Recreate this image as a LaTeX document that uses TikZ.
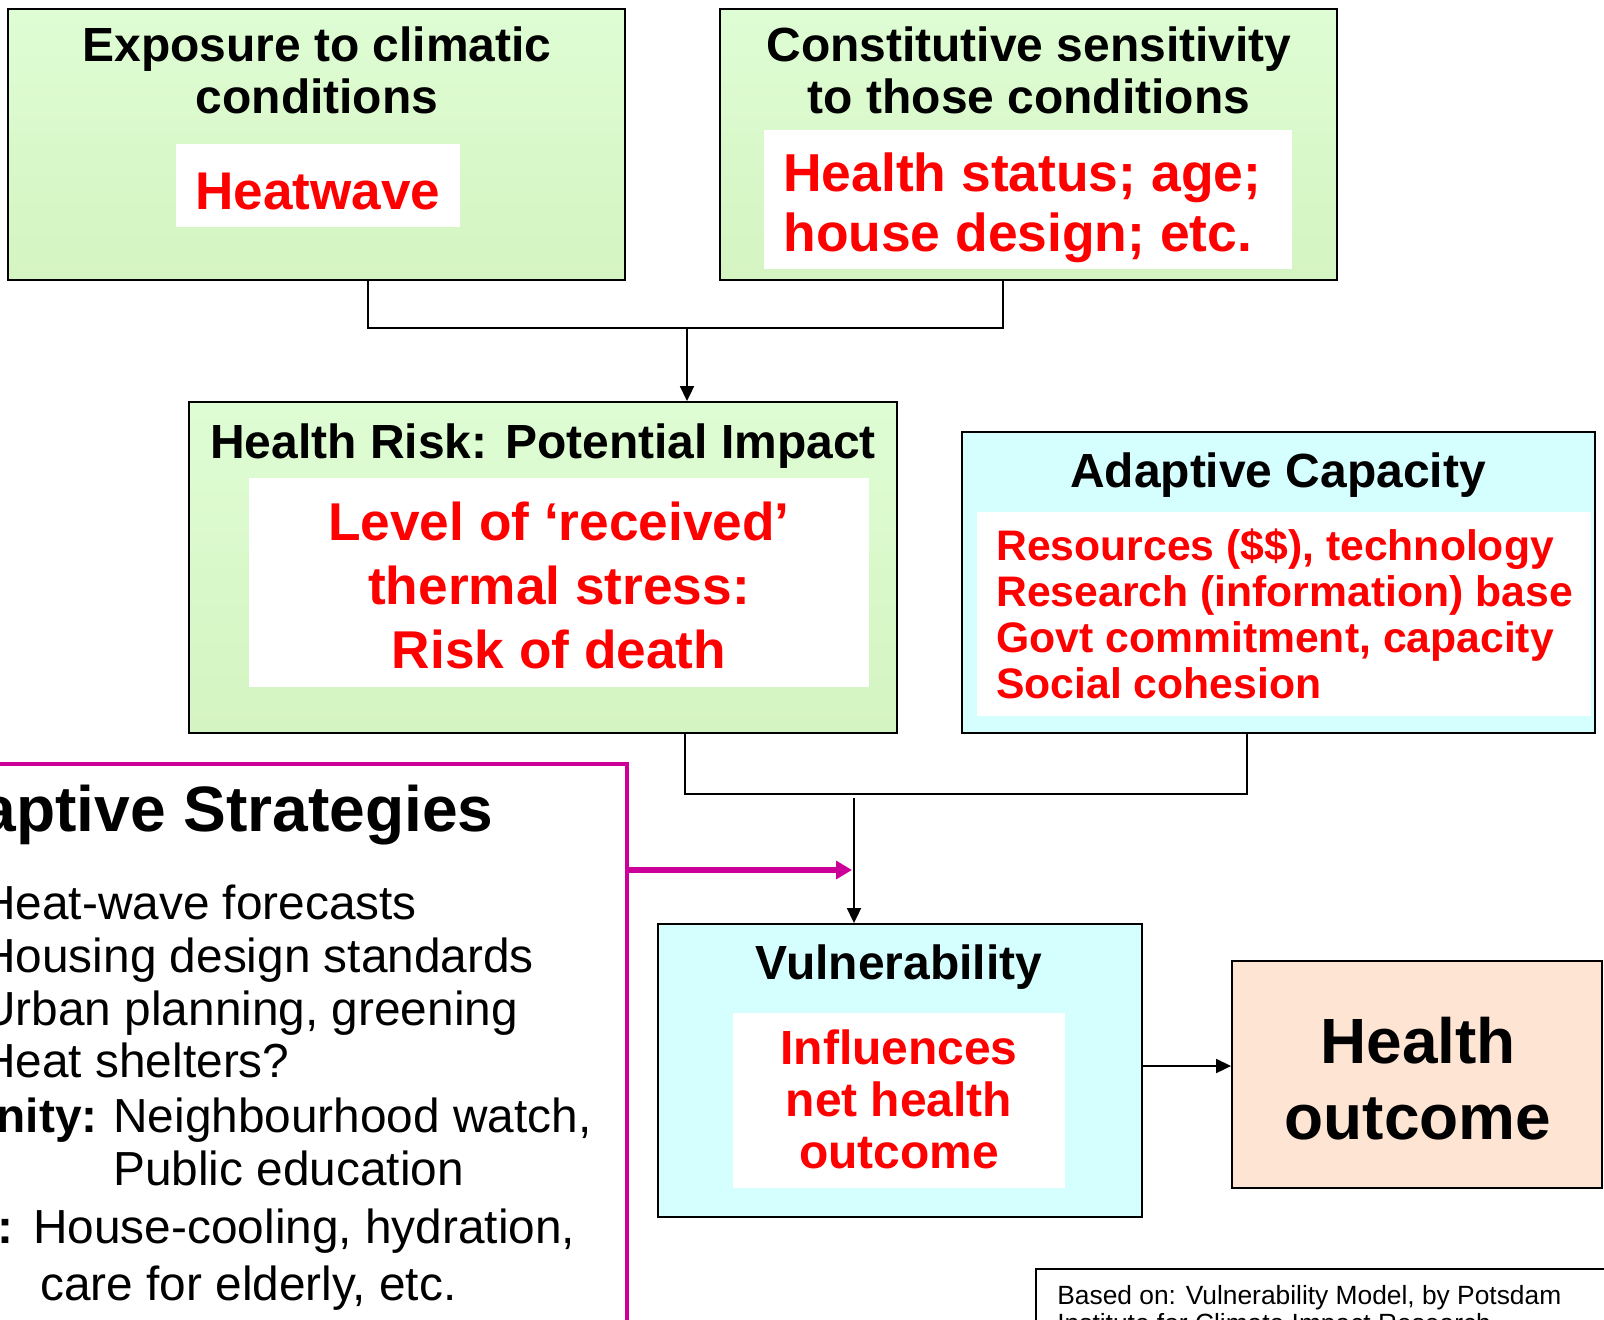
\documentclass[tikz,border=0pt]{standalone}
\usepackage{fontspec}
\setmainfont{Liberation Sans}
\usetikzlibrary{positioning, fit, arrows.meta}

\definecolor{greentop}{HTML}{DFFDD4}
\definecolor{greenbot}{HTML}{D4F4C1}
\definecolor{boxcyan}{HTML}{D5FEFE}
\definecolor{boxpeach}{HTML}{FDE4D3}
\definecolor{stratpink}{HTML}{CC0099}
\definecolor{alertred}{HTML}{FF0000}

\begin{document}
\begin{tikzpicture}[x=0.02cm, y=-0.02cm]
        % Define styles
        \tikzset{
            box/.style={draw=black, line width=1.1pt, inner sep=0pt},
            greenbox/.style={box, top color=greentop, bottom color=greenbot},
            cyanbox/.style={box, fill=boxcyan},
            whitebox/.style={fill=white, inner sep=0pt},
            txt/.style={inner sep=0pt, anchor=base},
            head/.style={txt, font=\fontsize{27.3}{30}\selectfont\bfseries},
            redtext/.style={txt, text=alertred},
            plain/.style={txt, anchor=base west, font=\fontsize{27.2}{30}\selectfont},
            link/.style={line width=0.9pt},
            arr/.style={link, -{Triangle[length=8.5pt, width=8pt]}},
            pinkarr/.style={draw=stratpink, line width=3pt, -{Triangle[length=9pt, width=10pt]}}
        }
        \useasboundingbox (0,0) rectangle (1604,1319);
        \clip (0,0) rectangle (1604,1319);
        % Exposure
        \node[greenbox, fit={(8,9) (625,280)}] (expo) {};
        \node[head] (expo1) at (317,61) {Exposure to climatic};
        \node[head] (expo2) at (317,113) {conditions};
        \node[whitebox, fit={(176,144) (460,227)}] (heatbg) {};
        \node[redtext, font=\fontsize{30.2}{33}\selectfont\bfseries] (heat) at (318,209) {Heatwave};
        % Sensitivity
        \node[greenbox, fit={(720,9) (1337,280)}] (sens) {};
        \node[head] (sens1) at (1029,61) {Constitutive sensitivity};
        \node[head] (sens2) at (1029,113) {to those conditions};
        \node[whitebox, fit={(764,130) (1292,269)}] (sensbg) {};
        \node[redtext, anchor=base west, font=\fontsize{30.4}{33}\selectfont\bfseries] (stat1) at (783,191) {Health status; age;};
        \node[redtext, anchor=base west, font=\fontsize{30.4}{33}\selectfont\bfseries] (stat2) at (783,251) {house design; etc.};
        % Health risk
        \node[greenbox, fit={(189,402) (897,733)}] (risk) {};
        \node[head] (risk1) at (543,458) {Health Risk: Potential Impact};
        \node[whitebox, fit={(249,478) (869,687)}] (riskbg) {};
        \node[redtext, font=\fontsize{30.3}{33}\selectfont\bfseries] (lvl1) at (559,540) {Level of ‘received’};
        \node[redtext, font=\fontsize{30.3}{33}\selectfont\bfseries] (lvl2) at (559,604) {thermal stress:};
        \node[redtext, font=\fontsize{30.3}{33}\selectfont\bfseries] (lvl3) at (559,668) {Risk of death};
        % Adaptive capacity
        \node[cyanbox, fit={(962,432) (1595,733)}] (adapt) {};
        \node[head] (adapt1) at (1278,487) {Adaptive Capacity};
        \node[whitebox, fit={(977,512) (1591,716)}] (adaptbg) {};
        \node[redtext, anchor=base west, font=\fontsize{24.3}{27}\selectfont\bfseries] (cap1) at (996,560) {Resources (\$\$), technology};
        \node[redtext, anchor=base west, font=\fontsize{24.3}{27}\selectfont\bfseries] (cap2) at (996,606) {Research (information) base};
        \node[redtext, anchor=base west, font=\fontsize{24.3}{27}\selectfont\bfseries] (cap3) at (996,652) {Govt commitment, capacity};
        \node[redtext, anchor=base west, font=\fontsize{24.3}{27}\selectfont\bfseries] (cap4) at (996,698) {Social cohesion};
        % Vulnerability
        \node[cyanbox, fit={(658,924) (1142,1217)}] (vuln) {};
        \node[head] (vuln1) at (899,979) {Vulnerability};
        \node[whitebox, fit={(733,1013) (1065,1188)}] (vulnbg) {};
        \node[redtext, font=\fontsize{27.3}{30}\selectfont\bfseries] (infl1) at (899,1064) {Influences};
        \node[redtext, font=\fontsize{27.3}{30}\selectfont\bfseries] (infl2) at (899,1116) {net health};
        \node[redtext, font=\fontsize{27.3}{30}\selectfont\bfseries] (infl3) at (899,1168) {outcome};
        % Health outcome
        \node[box, fill=boxpeach, fit={(1232,961) (1602,1188)}] (outcome) {};
        \node[txt, font=\fontsize{36.4}{40}\selectfont\bfseries] (out1) at (1418,1063) {Health};
        \node[txt, font=\fontsize{36.4}{40}\selectfont\bfseries] (out2) at (1418,1139) {outcome};
        % Adaptive strategies
        \node[draw=stratpink, line width=1.9pt, inner sep=0pt, fit={(-40,764) (627,1360)}] (strat) {};
        \node[txt, anchor=base east, font=\fontsize{36.5}{40}\selectfont\bfseries] (strat0) at (494,831) {Adaptive Strategies};
        \node[plain] (strat1) at (-19,919) {Heat-wave forecasts};
        \node[plain] (strat2) at (-19,972) {Housing design standards};
        \node[plain] (strat3) at (-19,1025) {Urban planning, greening};
        \node[plain] (strat4) at (-19,1077) {Heat shelters?};
        \node[txt, anchor=base east, font=\fontsize{27.2}{30}\selectfont\bfseries] (comm) at (98,1132) {Community:};
        \node[plain] (strat5) at (113,1132) {Neighbourhood watch,};
        \node[plain] (strat6) at (113,1185) {Public education};
        \node[txt, anchor=base east, font=\fontsize{27.2}{30}\selectfont\bfseries] (indiv) at (14,1243) {:};
        \node[plain] (strat7) at (33,1243) {House-cooling, hydration,};
        \node[plain] (strat8) at (40,1300) {care for elderly, etc.};
        % Source note
        \node[draw=black, line width=0.8pt, inner sep=0pt, fit={(1036,1269) (1640,1360)}] (note) {};
        \node[txt, anchor=base west, font=\fontsize{15}{18}\selectfont] (note1) at (1057,1304) {Based on: Vulnerability Model, by Potsdam};
        \node[txt, anchor=base west, font=\fontsize{15}{18}\selectfont] (note2) at (1057,1332) {Institute for Climate Impact Research};
        % Connectors
        \coordinate (tl) at (368,328);
        \coordinate (tm) at (687,328);
        \coordinate (tr) at (1003,328);
        \draw[link] (expo.south -| tl) -- (tl) -- (tr) -- (sens.south -| tr);
        \draw[arr] (tm) -- (risk.north -| tm);
        \coordinate (bl) at (685,794);
        \coordinate (bm) at (854,798);
        \coordinate (br) at (1247,794);
        \draw[link] (risk.south -| bl) -- (bl) -- (br) -- (adapt.south -| br);
        \draw[arr] (bm) -- (vuln.north -| bm);
        \coordinate (pk) at (852,870);
        \draw[pinkarr] (strat.east |- pk) -- (pk);
        \coordinate (vo) at (1142,1066);
        \draw[arr] (vuln.east |- vo) -- (outcome.west |- vo);
    \end{tikzpicture}
\end{document}
